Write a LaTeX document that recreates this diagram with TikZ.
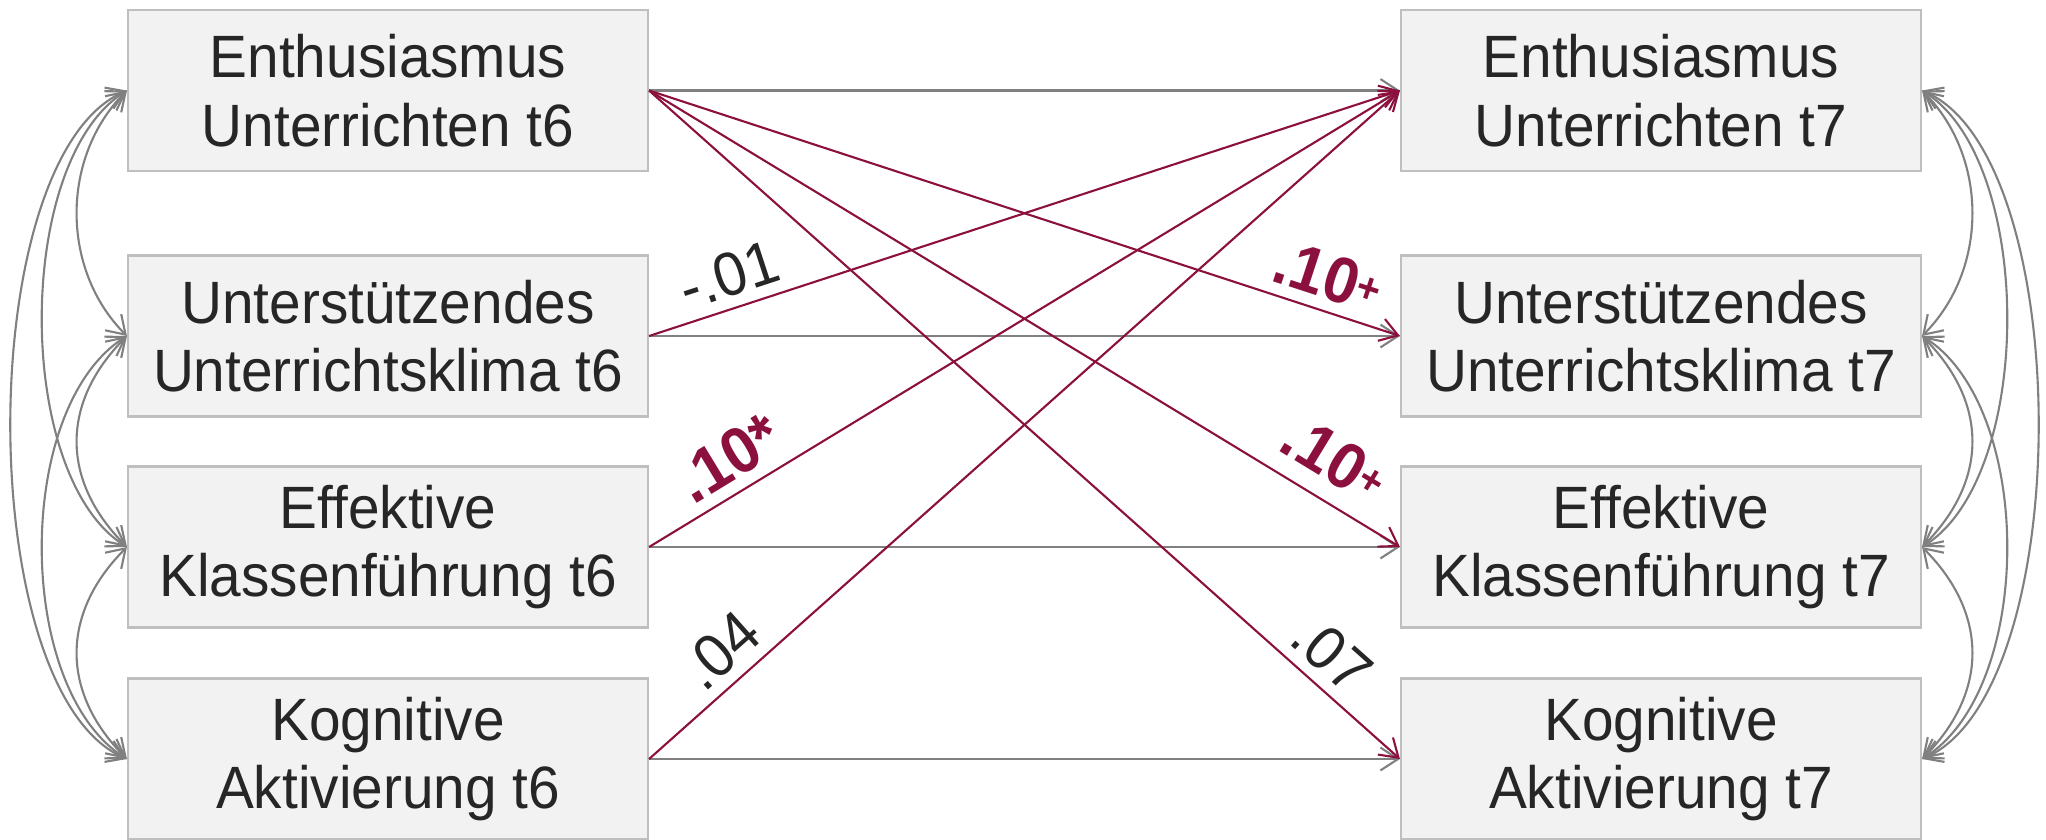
\documentclass[tikz,border=0pt]{standalone}
\usepackage{fontspec}
\setmainfont{Liberation Sans}[FakeStretch=0.95]
\usetikzlibrary{arrows.meta}
\definecolor{boxfill}{RGB}{242,242,242}
\definecolor{boxline}{RGB}{191,191,191}
\definecolor{pathred}{RGB}{140,16,62}
\definecolor{txtgray}{RGB}{38,38,38}
\definecolor{covgray}{RGB}{128,128,128}
\newcommand{\smallplus}{{\fontsize{12}{12}\selectfont\raisebox{2.5pt}{+}}}
\begin{document}
\begin{tikzpicture}[
        >={Straight Barb[length=5pt,width=6.5pt]},
        var/.style={draw=boxline, line width=0.6pt, fill=boxfill, minimum width=5.2cm, minimum height=1.61cm, align=center, text=txtgray, font=\fontsize{17}{19.5}\selectfont},
        stab/.style={draw=covgray, line width=0.6pt, ->},
        cross/.style={draw=pathred, line width=0.6pt, ->},
        cov/.style={draw=covgray, line width=0.6pt, <->},
        coef/.style={sloped, above, inner sep=3pt, text=txtgray, font=\fontsize{17.5}{17.5}\selectfont},
        sig/.style={coef, text=pathred, font=\fontsize{18.5}{18.5}\selectfont\bfseries}
    ]
        \useasboundingbox (0,0) rectangle (20.46,8.39);
        % t6
        \node[var] (en6) at (3.88,7.485) {Enthusiasmus\\Unterrichten t6};
        \node[var] (uk6) at (3.88,5.03) {Unterstützendes\\Unterrichtsklima t6};
        \node[var] (kf6) at (3.88,2.92) {Effektive\\Klassenführung t6};
        \node[var] (ka6) at (3.88,0.80) {Kognitive\\Aktivierung t6};
        % t7
        \node[var] (en7) at (16.61,7.485) {Enthusiasmus\\Unterrichten t7};
        \node[var] (uk7) at (16.61,5.03) {Unterstützendes\\Unterrichtsklima t7};
        \node[var] (kf7) at (16.61,2.92) {Effektive\\Klassenführung t7};
        \node[var] (ka7) at (16.61,0.80) {Kognitive\\Aktivierung t7};
        % stability paths
        \draw[stab] (en6.east) -- (en7.west);
        \draw[stab] (uk6.east) -- (uk7.west);
        \draw[stab] (kf6.east) -- (kf7.west);
        \draw[stab] (ka6.east) -- (ka7.west);
        % cross-lagged paths
        \draw[cross] (uk6.east) -- node[coef, pos=0.12] {-.01} (en7.west);
        \draw[cross] (kf6.east) -- node[sig, pos=0.13] {.10*} (en7.west);
        \draw[cross] (ka6.east) -- node[coef, pos=0.125] {.04} (en7.west);
        \draw[cross] (en6.east) -- node[sig, pos=0.89] {.10\smallplus} (uk7.west);
        \draw[cross] (en6.east) -- node[sig, pos=0.885, inner sep=5pt] {.10\smallplus} (kf7.west);
        \draw[cross] (en6.east) -- node[coef, pos=0.88] {.07} (ka7.west);
        % covariances t6
        \draw[cov] (en6.west) to[out=225, in=135, distance=0.94cm] (uk6.west);
        \draw[cov] (uk6.west) to[out=225, in=135, distance=0.94cm] (kf6.west);
        \draw[cov] (kf6.west) to[out=225, in=135, distance=0.94cm] (ka6.west);
        \draw[cov] (en6.west) to[out=212, in=148, distance=1.33cm] (kf6.west);
        \draw[cov] (uk6.west) to[out=212, in=148, distance=1.33cm] (ka6.west);
        \draw[cov] (en6.west) to[out=203, in=157, distance=1.68cm] (ka6.west);
        % covariances t7
        \draw[cov] (en7.east) to[out=-45, in=45, distance=0.94cm] (uk7.east);
        \draw[cov] (uk7.east) to[out=-45, in=45, distance=0.94cm] (kf7.east);
        \draw[cov] (kf7.east) to[out=-45, in=45, distance=0.94cm] (ka7.east);
        \draw[cov] (en7.east) to[out=-32, in=32, distance=1.33cm] (kf7.east);
        \draw[cov] (uk7.east) to[out=-32, in=32, distance=1.33cm] (ka7.east);
        \draw[cov] (en7.east) to[out=-23, in=23, distance=1.68cm] (ka7.east);
    \end{tikzpicture}
\end{document}
